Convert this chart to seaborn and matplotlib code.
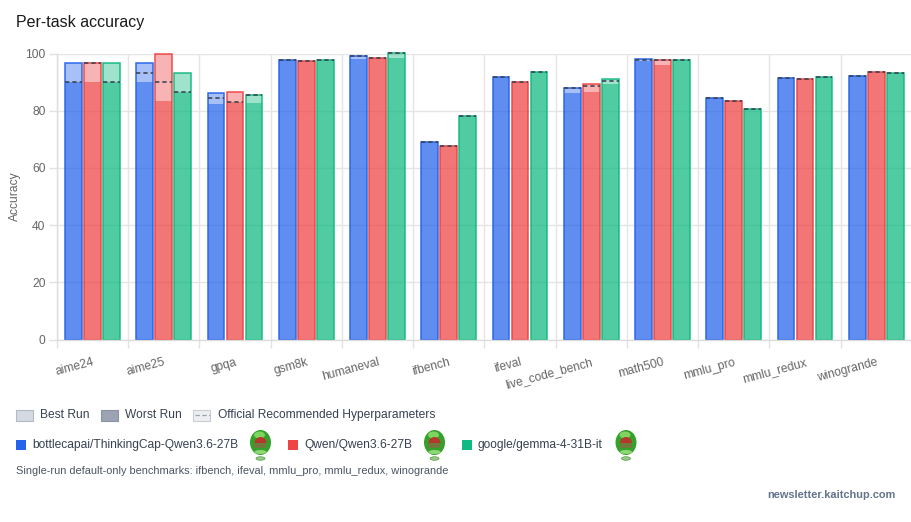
import matplotlib
matplotlib.use("Agg")
import matplotlib.pyplot as plt
from matplotlib.patches import Rectangle, Ellipse, Wedge
import pandas as pd
import seaborn as sns

tasks = ["aime24", "aime25", "gpqa", "gsm8k", "humaneval", "ifbench", "ifeval",
         "live_code_bench", "math500", "mmlu_pro", "mmlu_redux", "winogrande"]
models = ["bottlecapai/ThinkingCap-Qwen3.6-27B", "Qwen/Qwen3.6-27B", "google/gemma-4-31B-it"]
colors = ["#2563eb", "#ef4444", "#10b981"]

best_thinkingcap = [96.7, 96.7, 86.2, 97.7, 99.0, 69.1, 91.7, 88.1, 98.0, 84.6, 91.4, 92.3]
best_qwen = [96.7, 100.0, 86.7, 97.5, 98.3, 67.7, 90.1, 89.3, 97.8, 83.3, 91.0, 93.7]
best_gemma = [96.7, 93.3, 85.4, 97.7, 100.2, 78.2, 93.6, 91.0, 97.7, 80.5, 91.8, 93.2]

worst_thinkingcap = [90.0, 90.0, 82.3, 97.7, 98.0, 69.1, 91.7, 86.2, 97.5, 84.6, 91.4, 92.3]
worst_qwen = [90.0, 83.3, 83.0, 97.5, 98.3, 67.7, 90.1, 86.5, 96.0, 83.3, 91.0, 93.7]
worst_gemma = [90.0, 86.7, 82.8, 97.7, 98.5, 78.2, 93.6, 89.5, 97.7, 80.5, 91.8, 93.2]

official_thinkingcap = [90.0, 93.3, 84.3, 97.7, 99.0, 69.1, 91.7, 88.1, 97.8, 84.6, 91.4, 92.3]
official_qwen = [96.7, 90.0, 83.0, 97.5, 98.3, 67.7, 90.1, 88.5, 97.7, 83.3, 91.0, 93.7]
official_gemma = [90.0, 86.7, 85.4, 97.7, 100.2, 78.2, 93.6, 90.5, 97.7, 80.5, 91.8, 93.2]

df = pd.DataFrame({
    "task": tasks * 3,
    "model": [m for m in models for _ in tasks],
    "best": best_thinkingcap + best_qwen + best_gemma,
    "worst": worst_thinkingcap + worst_qwen + worst_gemma,
    "official": official_thinkingcap + official_qwen + official_gemma,
})

sns.set_theme(style="white")
plt.rcParams["font.family"] = ["Liberation Sans", "DejaVu Sans"]

W, H = 912, 522
fig = plt.figure(figsize=(W / 100, H / 100), dpi=100)
ax = fig.add_axes([56.7 / W, 1 - 339.5 / H, (W - 56.7) / W, (339.5 - 53.5) / H])

# best run bars with outline, worst run on top of them
sns.barplot(data=df, x="task", y="best", hue="model", hue_order=models, palette=colors,
            order=tasks, width=0.8, gap=0.12, saturation=1, errorbar=None,
            linewidth=1.1, legend=False, ax=ax)
n_best = len(ax.patches)
sns.barplot(data=df, x="task", y="worst", hue="model", hue_order=models, palette=colors,
            order=tasks, width=0.8, gap=0.12, saturation=1, alpha=0.55, errorbar=None,
            linewidth=0, legend=False, ax=ax)

patches = ax.patches[:n_best]
for p in patches:
    r, g, b, _ = p.get_facecolor()
    p.set_alpha(None)
    p.set_facecolor((r, g, b, 0.4))
    p.set_edgecolor((r, g, b, 0.95))
    p.set_clip_on(False)
for p in ax.patches[n_best:]:
    p.set_clip_on(False)

# dashed markers for the official hyperparameters, one per bar
for m_i, model in enumerate(models):
    sub = df[df["model"] == model]
    for t_i, val in enumerate(sub["official"]):
        p = patches[m_i * len(tasks) + t_i]
        ax.plot([p.get_x(), p.get_x() + p.get_width()], [val, val], color="#374151", lw=1.35,
                ls=(0, (2.3, 1.6)), clip_on=False, zorder=5, alpha=0.85)

ax.set_xlim(-0.5, len(tasks) - 0.5)
ax.set_ylim(0, 100)
ax.set_yticks([0, 20, 40, 60, 80, 100])
ax.set_ylabel("Accuracy", fontsize=8.64, color="#666666", labelpad=0)
ax.yaxis.set_label_coords(-36 / (W - 56.7), 0.5)
ax.set_xlabel("")

# grid sits on the category boundaries, labels on the centres
boundaries = [i - 0.5 for i in range(len(tasks) + 1)]
ax.set_xticks(boundaries, minor=True)
ax.set_xticks(range(len(tasks)))
ax.set_xticklabels(tasks, rotation=15, ha="right", rotation_mode="anchor", fontsize=8.64, color="#666666")
ax.tick_params(axis="x", which="major", length=0, pad=12)
ax.tick_params(axis="x", which="minor", length=5.8, width=1, color="#e2e2e2", bottom=True)
ax.tick_params(axis="y", length=6, width=1, color="#e2e2e2", labelsize=8.64, labelcolor="#666666", pad=2, left=True)
ax.grid(True, axis="x", which="minor", color="#e5e5e5", lw=1)
ax.grid(True, axis="y", color="#e5e5e5", lw=1)
ax.set_axisbelow(True)
for side, spine in ax.spines.items():
    spine.set_visible(side in ("left", "bottom"))
    spine.set_color("#dcdcdc")
    spine.set_linewidth(1)

# overlay in pixel coordinates for the html legend below the chart
ov = fig.add_axes([0, 0, 1, 1], zorder=10)
ov.set_xlim(0, W)
ov.set_ylim(H, 0)
ov.axis("off")
ov.patch.set_alpha(0)

ov.text(16, 23, "Per-task accuracy", fontsize=11.5, color="#1a1a1a", va="center")

txt = "#374151"
ov.add_patch(Rectangle((16.5, 409.5), 17, 11.5, fc="#d5d9e1", ec="#b4bac5", lw=0.8))
ov.text(40, 415, "Best Run", fontsize=8.64, color=txt, va="center")
ov.add_patch(Rectangle((101.5, 409.5), 17, 11.5, fc="#9ca3b2", ec="#8a92a3", lw=0.8))
ov.text(125, 415, "Worst Run", fontsize=8.64, color=txt, va="center")
ov.add_patch(Rectangle((193.5, 409.5), 17, 11.5, fc="#eceef1", ec="#c9cdd4", lw=0.8))
ov.plot([195, 210], [415, 415], color="#9ca3af", lw=0.9, ls=(0, (3.5, 2)))
ov.text(218, 415, "Official Recommended Hyperparameters", fontsize=8.64, color=txt, va="center")


def medal(cx):
    # small green badge next to each model name
    ov.add_patch(Ellipse((cx, 442.5), 21, 25, fc="#35a02c", ec="none"))
    ov.add_patch(Ellipse((cx - 1, 435), 11, 7, fc="#7fd45f", ec="none"))
    ov.add_patch(Wedge((cx, 443), 6, 180, 360, fc="#b5392a", ec="none"))
    ov.add_patch(Rectangle((cx - 6, 442.5), 12, 5, fc="#6e7b3a", ec="none"))
    ov.add_patch(Ellipse((cx, 452), 12, 4, fc="#8ed873", ec="none"))
    ov.add_patch(Ellipse((cx, 458.5), 9, 3.5, fc="#9bc98a", ec="#4f9a3f", lw=0.5))


for model, color, sq_x, icon_x in zip(models, colors, [16, 288, 462], [260.5, 434.5, 626]):
    ov.add_patch(Rectangle((sq_x, 440), 10, 10, fc=color, ec="none"))
    ov.text(sq_x + 16, 445, model, fontsize=8.64, color=txt, va="center")
    medal(icon_x)

ov.text(16, 471, "Single-run default-only benchmarks: ifbench, ifeval, mmlu_pro, mmlu_redux, winogrande",
        fontsize=7.92, color="#4b5563", va="center")
ov.text(896, 495, "newsletter.kaitchup.com", fontsize=7.92, color="#64748b", fontweight="bold", ha="right", va="center")

fig.savefig("out.png", dpi=100)
